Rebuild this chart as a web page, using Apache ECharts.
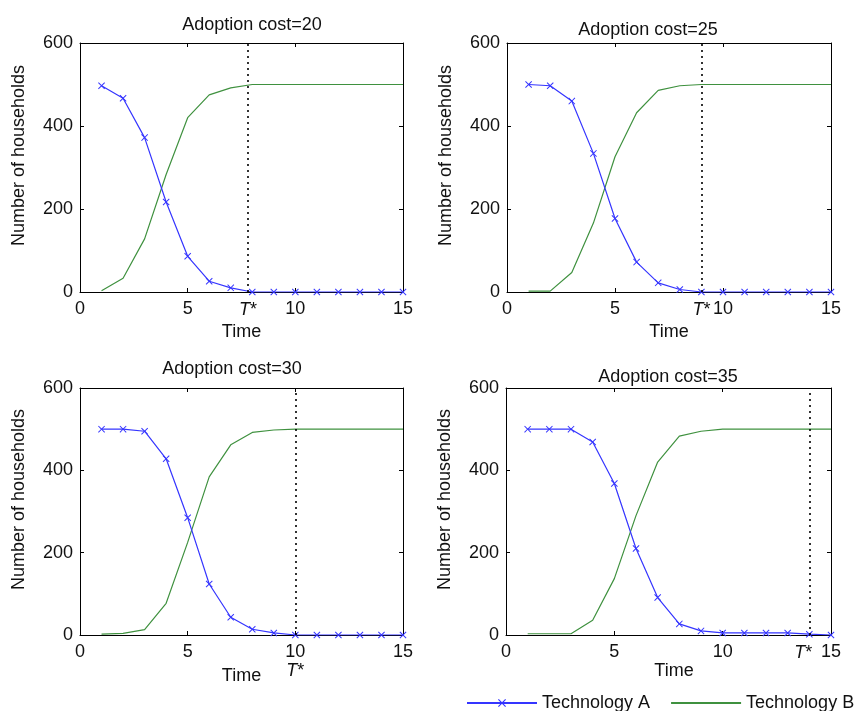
<!DOCTYPE html>
<html>
<head>
<meta charset="utf-8">
<script src="https://cdn.jsdelivr.net/npm/echarts@6/dist/echarts.min.js"></script>
<style>html,body{margin:0;padding:0;background:#fff}#c{width:862px;height:711px}</style>
</head>
<body>
<div id="c"></div>
<script>
// ---- data ----
var time = [1,2,3,4,5,6,7,8,9,10,11,12,13,14,15];
var titles = ['Adoption cost=20','Adoption cost=25','Adoption cost=30','Adoption cost=35'];
var techA20 = [497,467,372,217,86,26,10,0,0,0,0,0,0,0,0];
var techB20 = [3,33,128,283,420,475,492,500,500,500,500,500,500,500,500];
var techA25 = [500,497,460,334,177,72,22,6,0,0,0,0,0,0,0];
var techB25 = [2,2,47,166,326,432,486,497,500,500,500,500,500,500,500];
var techA30 = [500,500,495,428,285,124,43,14,5,0,0,0,0,0,0];
var techB30 = [2,4,13,77,225,384,462,492,498,500,500,500,500,500,500];
var techA35 = [500,500,500,469,368,210,91,27,10,5,5,5,5,2,0];
var techB35 = [3,3,3,36,137,290,420,483,495,500,500,500,500,500,500];
var tStar = [7.8, 9, 10, 14];
var xTicks = [0,5,10,15];
var yTicks = [0,200,400,600];

var seriesA = [techA20, techA25, techA30, techA35];
var seriesB = [techB20, techB25, techB30, techB35];

// ---- layout ----
var FONT = 'Liberation Sans, Arial, sans-serif';
var FS = 18;
var grids = [
  {left:80, top:43, width:323, height:249},
  {left:507, top:43, width:324, height:249},
  {left:80, top:388, width:323, height:247},
  {left:506, top:388, width:325, height:247}
];
var titlePos = [[247,11],[643,16],[227,355],[663,363]];
var xNameGap = [31,31,32,12];
var xNameShift = [0,0,0,11];
var tLabelOff = [[0,9],[0,9],[0,27],[-6,9]];

var blue = '#3535ff', green = '#3f913f';
var xSym = 'path://M0,1L1,0L5,4L9,0L10,1L6,5L10,9L9,10L5,6L1,10L0,9L4,5Z';

var option = {
  animation:false,
  backgroundColor:'#fff',
  textStyle:{fontFamily:FONT},
  title:[], grid:[], xAxis:[], yAxis:[], series:[],
  legend:{
    left:461, top:689, itemWidth:70, itemHeight:10, itemGap:20,
    textStyle:{fontFamily:FONT, fontSize:FS, color:'#111'},
    data:['Technology A', {name:'Technology B', itemStyle:{opacity:0}}]
  }
};

for (var i=0;i<4;i++){
  option.title.push({text:titles[i], left:titlePos[i][0], top:titlePos[i][1], textAlign:'center',
    textStyle:{fontFamily:FONT, fontSize:FS, fontWeight:'normal', color:'#111'}});
  option.grid.push(grids[i]);
  var axLine = {show:true, onZero:false, lineStyle:{color:'#000', width:1}};
  var tick = {show:true, inside:true, length:4, lineStyle:{color:'#000'}};
  // bottom x
  option.xAxis.push({type:'value', gridIndex:i, min:0, max:15, interval:5, position:'bottom',
    name:'Time', nameLocation:'middle', nameGap:xNameGap[i],
    nameTextStyle:{fontFamily:FONT, fontSize:FS, color:'#111', padding:[0,0,0,xNameShift[i]]},
    axisLine:axLine, axisTick:tick,
    axisLabel:{fontFamily:FONT, fontSize:FS, color:'#111', margin:8,
      formatter:function(v){return xTicks.indexOf(v)>=0? String(v):'';}},
    splitLine:{show:false}});
  // top x (box)
  option.xAxis.push({type:'value', gridIndex:i, min:0, max:15, interval:5, position:'top',
    axisLine:axLine, axisTick:tick, axisLabel:{show:false}, splitLine:{show:false}});
  // left y
  option.yAxis.push({type:'value', gridIndex:i, min:0, max:600, interval:200, position:'left',
    name:'Number of households', nameLocation:'middle', nameGap:52, nameRotate:90,
    nameTextStyle:{fontFamily:FONT, fontSize:FS, color:'#111', padding:[0,0,0,24]},
    axisLine:axLine, axisTick:tick,
    axisLabel:{fontFamily:FONT, fontSize:FS, color:'#111', margin:7,
      formatter:function(v){return yTicks.indexOf(v)>=0? String(v):'';}},
    splitLine:{show:false}});
  // right y (box)
  option.yAxis.push({type:'value', gridIndex:i, min:0, max:600, interval:200, position:'right',
    axisLine:axLine, axisTick:tick, axisLabel:{show:false}, splitLine:{show:false}});

  var xi = i*2, yi = i*2;
  option.series.push({
    name:'Technology B', type:'line', xAxisIndex:xi, yAxisIndex:yi,
    data: time.map(function(t,k){return [t, seriesB[i][k]];}),
    symbol:'none', lineStyle:{color:green, width:1.2}, itemStyle:{color:green},
    markLine:{
      silent:true, symbol:['none','none'],
      lineStyle:{color:'#000', width:1.6, type:[2,4]},
      label:{show:true, position:'start', formatter:'{i|T}*', offset:tLabelOff[i], distance:0,
        fontFamily:FONT, fontSize:FS, color:'#111',
        rich:{i:{fontStyle:'italic', fontFamily:FONT, fontSize:FS, color:'#111'}}},
      data:[{xAxis:tStar[i]}]
    },
    z:2
  });
  option.series.push({
    name:'Technology A', type:'line', xAxisIndex:xi, yAxisIndex:yi,
    data: time.map(function(t,k){return [t, seriesA[i][k]];}),
    symbol:xSym, symbolSize:7, showAllSymbol:true,
    lineStyle:{color:blue, width:1.2}, itemStyle:{color:blue},
    z:3
  });
}

var chart = echarts.init(document.getElementById('c'), null, {renderer:'canvas'});
chart.setOption(option);
</script>
</body>
</html>
